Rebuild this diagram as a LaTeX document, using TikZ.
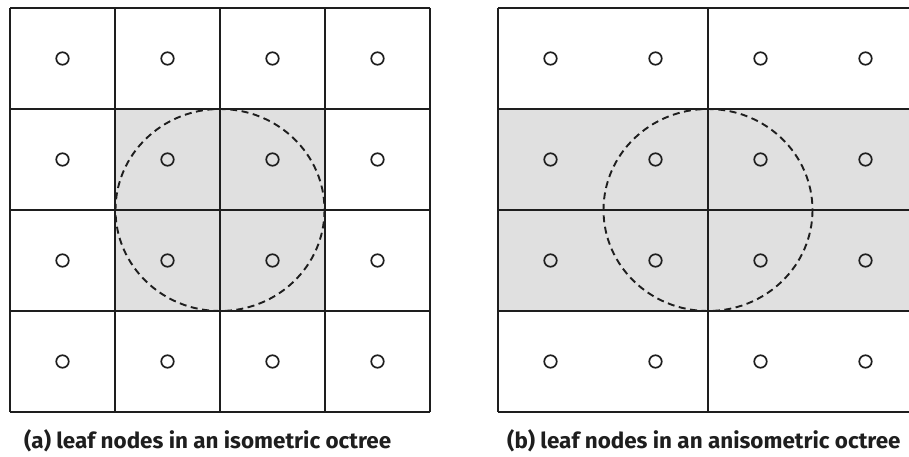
\documentclass[tikz,border=0pt]{standalone}
\usepackage{fontspec}
\newfontfamily\capfont[FakeStretch=1.02]{Fira Sans}
\definecolor{cellgray}{HTML}{E0E0E0}
\definecolor{ink}{HTML}{1E1E1E}
\begin{document}
\begin{tikzpicture}[x=1pt,y=-1pt,
  gridline/.style={line width=1.8pt, draw=ink},
  leafdot/.style={circle, draw=ink, line width=1.7pt, minimum size=12.5pt, inner sep=0pt},
  queryring/.style={draw=ink, line width=1.9pt, dash pattern=on 7pt off 4.5pt},
  captext/.style={font=\capfont\bfseries\fontsize{22}{26}\selectfont, text=ink, inner sep=0pt, anchor=base west}]
\useasboundingbox (0,0) rectangle (909,457);
\clip (0,0) rectangle (909,457);
% ---- left: isometric ----
\fill[cellgray] (115,109) rectangle (325,311);
\foreach \x in {10,115,220,325,430} \draw[gridline] (\x,8) -- (\x,412);
\foreach \y in {8,109,210,311,412} \draw[gridline] (10,\y) -- (430,\y);
\foreach \x [count=\i] in {62.5,167.5,272.5,377.5}
  \foreach \y [count=\j] in {58.5,159.5,260.5,361.5}
    \node[leafdot] (a\i\j) at (\x,\y) {};
\draw[queryring] (220,210) ellipse [x radius=104.5, y radius=101];
\node[captext] (capa) at (24,448) {(a) leaf nodes in an isometric octree};
% ---- right: anisometric ----
\fill[cellgray] (498,109) rectangle (918,311);
\foreach \x in {498,708,918} \draw[gridline] (\x,8) -- (\x,412);
\foreach \y in {8,109,210,311,412} \draw[gridline] (498,\y) -- (918,\y);
\foreach \x [count=\i] in {550.5,655.5,760.5,865.5}
  \foreach \y [count=\j] in {58.5,159.5,260.5,361.5}
    \node[leafdot] (b\i\j) at (\x,\y) {};
\draw[queryring] (708,210) ellipse [x radius=104.5, y radius=101];
\node[captext] (capb) at (507,448) {(b) leaf nodes in an anisometric octree};
\end{tikzpicture}
\end{document}
